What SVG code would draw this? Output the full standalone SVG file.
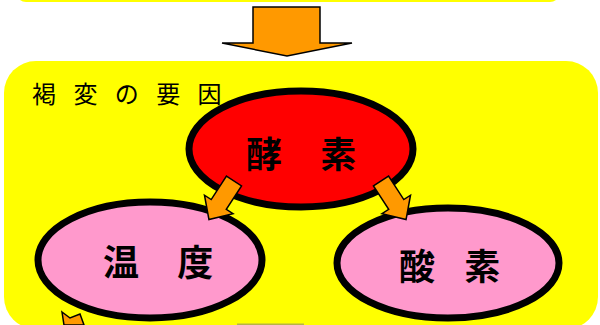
<svg xmlns="http://www.w3.org/2000/svg" width="600" height="325" viewBox="0 0 600 325">
  <style>
    .box { fill: #FFFF00; stroke: none; }
    .arrow { fill: #FF9900; stroke: #000000; stroke-width: 1.5; stroke-linejoin: miter; }
    .red { fill: #FF0000; stroke: #000000; stroke-width: 7; }
    .pink { fill: #FF99CC; stroke: #000000; stroke-width: 7; }
    .title { font-family: "Noto Sans CJK JP", "Noto Sans", sans-serif; font-size: 24px; font-weight: 400; fill: #000000; }
    .label { font-family: "Noto Sans CJK JP", "Noto Sans", sans-serif; font-size: 36px; font-weight: 700; fill: #000000; }
  </style>
  <rect width="600" height="325" fill="#FFFFFF"/>
  <g id="top-box">
    <rect class="box" x="16" y="-40" width="544" height="42" rx="10"/>
  </g>
  <g id="main-box">
    <rect class="box" x="4" y="61" width="594" height="268" rx="32"/>
    <text class="title" x="32" y="103" letter-spacing="6" xml:space="preserve">褐 変 の 要 因</text>
  </g>
  <g id="bottom-fragments">
    <polygon class="arrow" points="62,312 70,318 80,314 84,325 64,325"/>
    <rect x="237" y="323.5" width="67" height="1.5" fill="#B5B545"/>
  </g>
  <g id="node-koso">
    <ellipse class="red" cx="301" cy="149" rx="112" ry="58"/>
    <text class="label" x="246" y="168" letter-spacing="15" xml:space="preserve">酵 素</text>
  </g>
  <g id="node-ondo">
    <ellipse class="pink" cx="150" cy="260" rx="112" ry="58"/>
    <text class="label" x="103" y="276" letter-spacing="15" xml:space="preserve">温 度</text>
  </g>
  <g id="node-sanso">
    <ellipse class="pink" cx="448" cy="263" rx="111" ry="55"/>
    <text class="label" x="399" y="280" letter-spacing="10.5" xml:space="preserve">酸 素</text>
  </g>
  <g id="connectors">
    <polygon class="arrow" points="253,7 320,7 320,43 352,43 287,56 222,43 253,43"/>
    <g transform="translate(234,181) rotate(33)">
      <polygon class="arrow" points="-9,0 9,0 9,28 17,28 0,46 -17,28 -9,28"/>
    </g>
    <g transform="translate(381,181) rotate(-33)">
      <polygon class="arrow" points="-9,0 9,0 9,28 17,28 0,46 -17,28 -9,28"/>
    </g>
  </g>
</svg>
